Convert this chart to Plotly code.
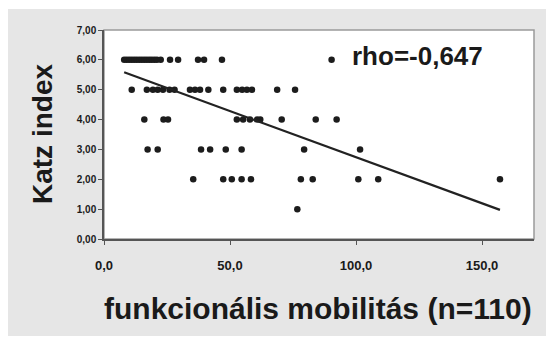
import plotly.graph_objects as go

# ---- data ----
row6_x = [8, 9, 10, 11, 12, 13, 14, 15, 16, 17, 18, 19, 20, 21, 22.5, 26.2, 29.4, 37.3, 39.7, 46.8, 90.3]
row5_x = [11, 17, 19.4, 21.3, 23.4, 26, 28, 34.1, 36.1, 38.1, 41.4, 47.3, 52.7, 54.8, 56.7, 58.7, 68.7, 75.8]
row4_x = [16, 23.6, 25.4, 52.7, 55.2, 57.9, 60.7, 62, 70.5, 84, 92.3]
row3_x = [17.3, 21.3, 38.5, 42.1, 48.3, 54.6, 79.4, 101.6]
row2_x = [35.4, 47.3, 50.7, 54.6, 58.3, 78.1, 82.8, 100.9, 108.8, 157.1]
row1_x = [76.7]

mobility = row6_x + row5_x + row4_x + row3_x + row2_x + row1_x
katz = ([6.0] * len(row6_x) + [5.0] * len(row5_x) + [4.0] * len(row4_x)
        + [3.0] * len(row3_x) + [2.0] * len(row2_x) + [1.0] * len(row1_x))

fit_intercept = 5.83
fit_slope = -0.0309
fit_x = [min(mobility), max(mobility)]
fit_y = [fit_intercept + fit_slope * v for v in fit_x]

y_ticks = [0, 1, 2, 3, 4, 5, 6, 7]
x_ticks = [0, 50, 100, 150]
x_title = "funkcionális mobilitás (n=110)"
y_title = "Katz index"
rho_label = "rho=-0,647"

# ---- layout geometry (pixels) ----
W, H = 546, 337
L, R, T, B = 104, 534, 30, 239
pw, ph = R - L, B - T

def px_x(p):
    return (p - L) / pw

def px_y(p):
    return (B - p) / ph

FONT = "Arial, Liberation Sans, sans-serif"

fig = go.Figure()
fig.add_trace(go.Scatter(
    x=mobility, y=katz, mode="markers",
    marker=dict(size=6.5, color="#1c1c1c"),
    showlegend=False, hoverinfo="skip"))
fig.add_trace(go.Scatter(
    x=fit_x, y=fit_y, mode="lines",
    line=dict(color="#222222", width=2.2),
    showlegend=False, hoverinfo="skip"))

shapes = [
    dict(type="rect", xref="paper", yref="paper", layer="below",
         x0=px_x(8), x1=px_x(546), y0=px_y(336), y1=px_y(9),
         fillcolor="#e6e6e6", line=dict(width=0)),
    dict(type="rect", xref="paper", yref="paper", layer="below",
         x0=0, x1=1, y0=0, y1=1,
         fillcolor="#ffffff", line=dict(color="#9a9a9a", width=1.5)),
]

annotations = [
    dict(text=rho_label, x=97.6, y=6.13, xref="x", yref="y",
         xanchor="left", yanchor="middle", showarrow=False,
         font=dict(family=FONT, size=26, color="#1a1a1a", weight="bold")),
    dict(text=x_title, x=px_x(318), y=px_y(308), xref="paper", yref="paper",
         xanchor="center", yanchor="middle", showarrow=False,
         font=dict(family=FONT, size=30, color="#1a1a1a", weight="bold")),
    dict(text=y_title, x=px_x(42), y=px_y(134), xref="paper", yref="paper",
         xanchor="center", yanchor="middle", showarrow=False, textangle=-90,
         font=dict(family=FONT, size=28, color="#1a1a1a", weight="bold")),
]

fig.update_layout(
    width=W, height=H,
    margin=dict(l=L, r=W - R, t=T, b=H - B, pad=0),
    paper_bgcolor="#ffffff", plot_bgcolor="rgba(0,0,0,0)",
    separators=",.",
    shapes=shapes, annotations=annotations,
    xaxis=dict(range=[0, 170.6], tickvals=x_ticks, tickformat=".1f",
               showgrid=False, zeroline=False, showline=True,
               linecolor="#555555", linewidth=1.5,
               ticks="outside", ticklen=4, tickcolor="#555555",
               ticklabelstandoff=10,
               tickfont=dict(family=FONT, size=13, color="#1a1a1a", weight="bold")),
    yaxis=dict(range=[0, 7], tickvals=y_ticks, tickformat=".2f",
               showgrid=False, zeroline=False, showline=True,
               linecolor="#555555", linewidth=1.5,
               ticks="outside", ticklen=4, tickcolor="#555555",
               tickfont=dict(family=FONT, size=10, color="#1a1a1a", weight="bold")),
)

fig.write_html("out.html")
